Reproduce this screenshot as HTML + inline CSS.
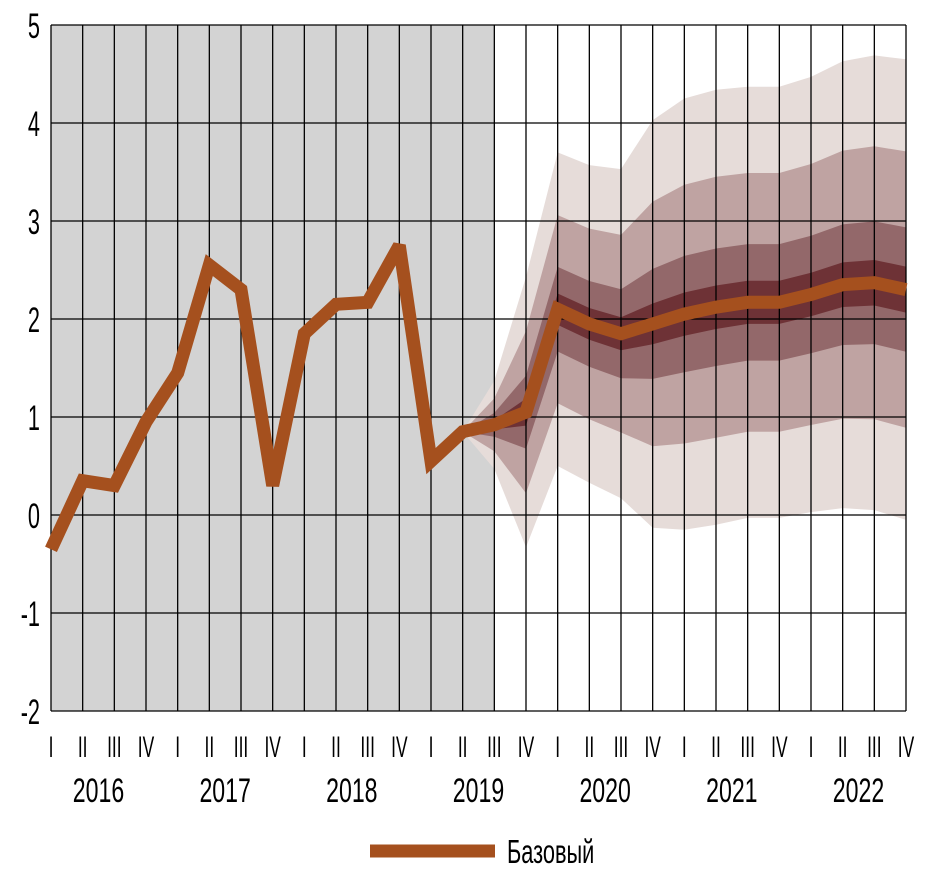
<!DOCTYPE html>
<html><head><meta charset="utf-8"><style>
body{margin:0;background:#fff;width:926px;height:880px;overflow:hidden}
text{font-family:"Liberation Sans Narrow","Liberation Sans",sans-serif;fill:#000}
</style></head><body>
<svg id="s" width="926" height="880" xmlns="http://www.w3.org/2000/svg"></svg>
<script>
const s=document.getElementById('s');
const X=i=>51+i*855/27, Y=v=>25+(5-v)*98;
let h='';
h+=`<rect x="51" y="25" width="${X(14)-51}" height="686" fill="#d3d3d3"/>`;
const c=[-0.35,0.35,0.3,0.95,1.45,2.55,2.3,0.3,1.85,2.15,2.17,2.75,0.55,0.85,0.92,1.05,2.1,1.95,1.85,1.95,2.05,2.12,2.17,2.17,2.25,2.35,2.37,2.3];
const hw={13:0,14:0.45,15:1.38,16:1.6,17:1.62,18:1.68,19:2.08,20:2.2,21:2.22,22:2.2,23:2.2,24:2.22,25:2.28,26:2.32,27:2.35};
const bands=[[1,'#e6dcd9'],[0.6,'#bfa3a2'],[0.27,'#93686a'],[0.1,'#6e3236']];
for(const [r,col] of bands){let up=[],lo=[];for(let i=13;i<28;i++){up.push(X(i).toFixed(1)+','+Y(c[i]+hw[i]*r).toFixed(1));lo.unshift(X(i).toFixed(1)+','+Y(c[i]-hw[i]*r).toFixed(1));}
h+=`<polygon points="${up.concat(lo).join(' ')}" fill="${col}"/>`;}
for(let v=-2;v<=5;v++){h+=`<line x1="51" x2="906" y1="${Y(v)}" y2="${Y(v)}" stroke="#000" stroke-width="1.3"/>`;
h+=`<text x="0" y="${Y(v)+13}" font-size="35" text-anchor="end" transform="translate(40 0) scale(0.62 1)" >${v}</text>`;}
const rom=['I','II','III','IV'];
for(let i=0;i<28;i++){h+=`<line x1="${X(i)}" x2="${X(i)}" y1="25" y2="711" stroke="#000" stroke-width="1.3"/>`;
h+=`<text x="0" y="757" font-size="30" text-anchor="middle" transform="translate(${X(i)} 0) scale(0.58 1)">${rom[i%4]}</text>`;}
for(let y=0;y<7;y++){h+=`<text x="0" y="802" font-size="34" text-anchor="middle" transform="translate(${X(y*4+1.5)} 0) scale(0.68 1)">${2016+y}</text>`;}
h+=`<polyline points="${c.map((v,i)=>X(i).toFixed(1)+','+Y(v).toFixed(1)).join(' ')}" fill="none" stroke="#a5501e" stroke-width="13" stroke-linejoin="miter" stroke-miterlimit="3"/>`;
h+=`<line x1="370" x2="495" y1="851" y2="851" stroke="#a5501e" stroke-width="13"/>`;
h+=`<text x="0" y="863" font-size="33" transform="translate(507 0) scale(0.66 1)">Базовый</text>`;
s.innerHTML=h;
</script>
</body></html>
